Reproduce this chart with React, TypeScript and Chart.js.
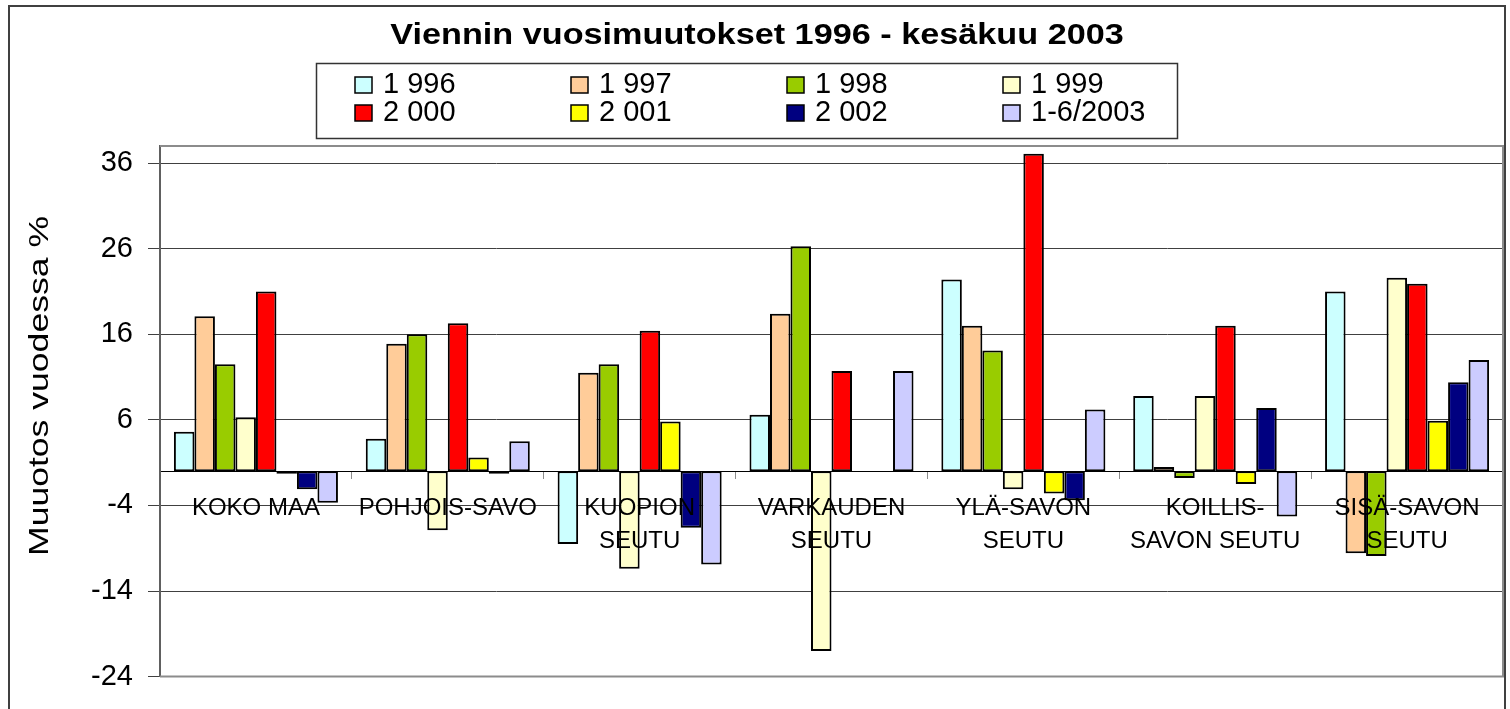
import React, { useEffect, useRef } from "react";
import { Chart, registerables } from "chart.js";

Chart.register(...registerables);

const TITLE = "Viennin vuosimuutokset 1996 - kesäkuu 2003";
const Y_TITLE = "Muuotos vuodessa %";

const CATEGORIES: (string | string[])[] = [
  "KOKO MAA",
  "POHJOIS-SAVO",
  ["KUOPION", "SEUTU"],
  ["VARKAUDEN", "SEUTU"],
  ["YLÄ-SAVON", "SEUTU"],
  ["KOILLIS-", "SAVON SEUTU"],
  ["SISÄ-SAVON", "SEUTU"],
];

const SERIES_LABELS = ["1 996", "1 997", "1 998", "1 999", "2 000", "2 001", "2 002", "1-6/2003"];
const SERIES_COLORS = ["#CCFFFF", "#FFCC99", "#99CC00", "#FFFFCC", "#FF0000", "#FFFF00", "#000080", "#CCCCFF"];

const S1996 = [4.6, 3.8, -8.5, 6.6, 22.4, 8.8, 21.0];
const S1997 = [18.1, 14.9, 11.5, 18.4, 17.0, 0.5, -9.6];
const S1998 = [12.5, 16.0, 12.5, 26.3, 14.1, -0.8, -9.9];
const S1999 = [6.3, -6.9, -11.4, -21.0, -2.1, 8.8, 22.6];
const S2000 = [21.0, 17.3, 16.4, 11.7, 37.1, 17.0, 21.9];
const S2001 = [-0.3, 1.6, 5.8, null, -2.6, -1.5, 5.9];
const S2002 = [-2.1, -0.3, -6.6, null, -3.4, 7.4, 10.4];
const S2003 = [-3.7, 3.5, -10.9, 11.7, 7.2, -5.3, 13.0];

const SERIES = [S1996, S1997, S1998, S1999, S2000, S2001, S2002, S2003];

const Y_TICKS = [-24, -14, -4, 6, 16, 26, 36];
const Y_MIN = -24;
const Y_MAX = 38;

const FONT = '"Liberation Sans", Arial, sans-serif';

const decorPlugin = {
  id: "decor",
  beforeDraw(chart: any) {
    const ctx = chart.ctx;
    ctx.save();
    ctx.fillStyle = "#ffffff";
    ctx.fillRect(0, 0, chart.width, chart.height);
    ctx.strokeStyle = "#404040";
    ctx.lineWidth = 2;
    ctx.strokeRect(9, 6, 1496, 760);
    ctx.restore();
  },
  beforeDatasetsDraw(chart: any) {
    const ctx = chart.ctx;
    const a = chart.chartArea;
    ctx.save();
    ctx.strokeStyle = "#8c8c8c";
    ctx.lineWidth = 2;
    ctx.beginPath();
    ctx.moveTo(a.left, a.top);
    ctx.lineTo(a.right, a.top);
    ctx.lineTo(a.right, a.bottom);
    ctx.lineTo(a.left, a.bottom);
    ctx.stroke();
    ctx.restore();
  },
  afterDraw(chart: any) {
    const ctx = chart.ctx;
    // Title
    ctx.save();
    ctx.fillStyle = "#000";
    ctx.font = `bold 29px ${FONT}`;
    ctx.textAlign = "center";
    ctx.textBaseline = "alphabetic";
    ctx.translate(757, 44);
    ctx.scale(1.18, 1);
    ctx.fillText(TITLE, 0, 0);
    ctx.restore();

    // Y axis title
    ctx.save();
    ctx.fillStyle = "#000";
    ctx.font = `28px ${FONT}`;
    ctx.textAlign = "center";
    ctx.textBaseline = "alphabetic";
    ctx.translate(48, 386);
    ctx.rotate(-Math.PI / 2);
    ctx.scale(1.27, 1);
    ctx.fillText(Y_TITLE, 0, 0);
    ctx.restore();

    // Legend
    ctx.save();
    ctx.fillStyle = "#fff";
    ctx.fillRect(316, 63, 861, 75);
    ctx.strokeStyle = "#333";
    ctx.lineWidth = 1.5;
    ctx.strokeRect(316.5, 63.5, 861, 75);
    ctx.font = `29px ${FONT}`;
    ctx.textAlign = "left";
    ctx.textBaseline = "alphabetic";
    const ds = chart.data.datasets;
    for (let i = 0; i < ds.length; i++) {
      const col = i % 4;
      const row = Math.floor(i / 4);
      const x = 355 + col * 216;
      const baseY = row === 0 ? 93 : 121;
      ctx.fillStyle = ds[i].backgroundColor;
      ctx.fillRect(x, baseY - 16, 17, 16);
      ctx.strokeStyle = "#000";
      ctx.lineWidth = 1.5;
      ctx.strokeRect(x, baseY - 16, 17, 16);
      ctx.fillStyle = "#000";
      ctx.fillText(ds[i].label, x + 28, baseY);
    }
    ctx.restore();
  },
};

export default function App() {
  const ref = useRef<HTMLCanvasElement | null>(null);

  useEffect(() => {
    if (!ref.current) return;
    const chart = new Chart(ref.current, {
      type: "bar",
      data: {
        labels: CATEGORIES as any,
        datasets: SERIES.map((d, i) => ({
          label: SERIES_LABELS[i],
          data: d as any,
          backgroundColor: SERIES_COLORS[i],
          borderColor: "#000000",
          borderWidth: 2,
          borderSkipped: false,
          categoryPercentage: 0.855,
          barPercentage: 1.0,
        })),
      },
      options: {
        responsive: false,
        animation: false,
        devicePixelRatio: 1,
        layout: { padding: { top: 146, left: 0, right: 7, bottom: 22 } },
        plugins: {
          legend: { display: false },
          title: { display: false },
          tooltip: { enabled: false },
        },
        scales: {
          x: {
            position: { y: 0 } as any,
            grid: {
              display: true,
              drawOnChartArea: false,
              drawTicks: true,
              tickLength: 7,
              color: "#8c8c8c",
              offset: true,
              z: -1,
            },
            border: { display: true, color: "#000", width: 1, z: 0 },
            ticks: {
              z: 1,
              color: "#000",
              font: { family: FONT, size: 24, lineHeight: 1.4 },
              padding: 13,
              maxRotation: 0,
              minRotation: 0,
              autoSkip: false,
            },
            afterFit(scale: any) {
              scale.height = 0;
            },
          } as any,
          y: {
            min: Y_MIN,
            max: Y_MAX,
            afterBuildTicks(scale: any) {
              scale.ticks = Y_TICKS.map((v) => ({ value: v }));
            },
            afterFit(scale: any) {
              scale.width = 160;
            },
            grid: {
              color: "#404040",
              lineWidth: 1,
              tickLength: 12,
              drawTicks: true,
            },
            border: { display: true, color: "#606060", width: 2 },
            ticks: {
              color: "#000",
              font: { family: FONT, size: 29 },
              padding: 15,
            },
          },
        },
      },
      plugins: [decorPlugin],
    });
    return () => chart.destroy();
  }, []);

  return (
    <div style={{ position: "absolute", left: 0, top: 0, width: 1510, height: 709, background: "#fff" }}>
      <canvas ref={ref} width={1510} height={709} style={{ display: "block" }} />
    </div>
  );
}
